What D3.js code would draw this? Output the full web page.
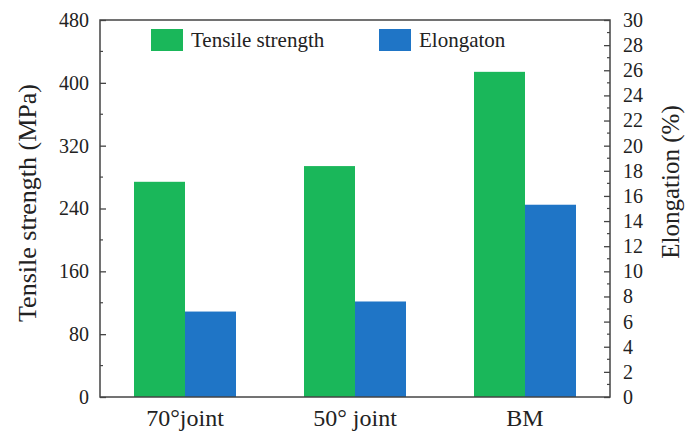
<!DOCTYPE html>
<html><head><meta charset="utf-8">
<script src="https://cdn.jsdelivr.net/npm/d3@7"></script>
<style>
body{margin:0;background:#fff;}
</style></head>
<body><svg id="c" width="694" height="432"></svg>
<script>
const categories = ["70°joint", "50° joint", "BM"];
const tensile = [274, 294, 414];
const elongation = [6.8, 7.6, 15.3];
const leftTicks = [0, 80, 160, 240, 320, 400, 480];
const rightTicks = [0,2,4,6,8,10,12,14,16,18,20,22,24,26,28,30];
const seriesNames = ["Tensile strength", "Elongaton"];
const colors = ["#1ab75a", "#1f75c6"];

const FONT = "'Liberation Serif', 'Times New Roman', Times, serif";
const svg = d3.select("#c");
const m = {l:100, r:610, t:20, b:397};
const x = d3.scaleBand().domain(categories).range([m.l, m.r]).paddingInner(0.4).paddingOuter(0.2);
const x2 = d3.scaleBand().domain([0,1]).range([0, x.bandwidth()]);
const yL = d3.scaleLinear().domain([0, 480]).range([m.b, m.t]);
const yR = d3.scaleLinear().domain([0, 30]).range([m.b, m.t]);

// bars
const g = svg.append("g");
categories.forEach((c, i) => {
  g.append("rect").attr("x", x(c) + x2(0)).attr("width", x2.bandwidth())
    .attr("y", yL(tensile[i])).attr("height", yL(0) - yL(tensile[i])).attr("fill", colors[0]);
  g.append("rect").attr("x", x(c) + x2(1)).attr("width", x2.bandwidth())
    .attr("y", yR(elongation[i])).attr("height", yR(0) - yR(elongation[i])).attr("fill", colors[1]);
});

// frame
svg.append("rect").attr("x", m.l).attr("y", m.t).attr("width", m.r - m.l).attr("height", m.b - m.t)
  .attr("fill", "none").attr("stroke", "#444").attr("stroke-width", 1.5);

// left axis (ticks inward)
const la = svg.append("g").attr("transform", `translate(${m.l},0)`)
  .call(d3.axisLeft(yL).tickValues(leftTicks).tickSize(-6).tickPadding(11));
la.attr("font-family", FONT);
la.select(".domain").remove();
la.selectAll(".tick line").attr("stroke", "#444").attr("stroke-width", 1.3);
la.selectAll("text").attr("font-size", 20).attr("fill", "#222").attr("font-family", FONT);
svg.append("g").selectAll("line").data(d3.range(40, 480, 80)).join("line")
  .attr("x1", m.l).attr("x2", m.l + 3).attr("y1", d => yL(d)).attr("y2", d => yL(d))
  .attr("stroke", "#444").attr("stroke-width", 1.2);

// right axis
const ra = svg.append("g").attr("transform", `translate(${m.r},0)`)
  .call(d3.axisRight(yR).tickValues(rightTicks).tickSize(-6).tickPadding(13));
ra.attr("font-family", FONT);
ra.select(".domain").remove();
ra.selectAll(".tick line").attr("stroke", "#444").attr("stroke-width", 1.3);
ra.selectAll("text").attr("font-size", 20).attr("fill", "#222").attr("font-family", FONT);
svg.append("g").selectAll("line").data(d3.range(1, 30, 2)).join("line")
  .attr("x1", m.r).attr("x2", m.r - 3).attr("y1", d => yR(d)).attr("y2", d => yR(d))
  .attr("stroke", "#444").attr("stroke-width", 1.2);

// bottom axis labels
const ba = svg.append("g").attr("transform", `translate(0,${m.b})`)
  .call(d3.axisBottom(x).tickSize(0).tickPadding(11));
ba.attr("font-family", FONT);
ba.select(".domain").remove();
ba.selectAll("text").attr("font-size", 24).attr("fill", "#222").attr("font-family", FONT).attr("dy", "0.75em");

// axis titles
svg.append("text").attr("transform", "translate(36,203) rotate(-90)").attr("font-family", FONT).attr("fill", "#222")
  .attr("text-anchor", "middle").attr("font-size", 26).text("Tensile strength (MPa)");
svg.append("text").attr("transform", "translate(679,182) rotate(-90)").attr("font-family", FONT).attr("fill", "#222")
  .attr("text-anchor", "middle").attr("font-size", 25).text("Elongation (%)");

// legend
const legX = [151, 379];
seriesNames.forEach((s, i) => {
  svg.append("rect").attr("x", legX[i]).attr("y", 29).attr("width", 32).attr("height", 22).attr("fill", colors[i]);
  svg.append("text").attr("x", legX[i] + 40).attr("y", 47).attr("font-family", FONT).attr("fill", "#222")
    .attr("font-size", 21).text(s);
});
</script></body></html>
